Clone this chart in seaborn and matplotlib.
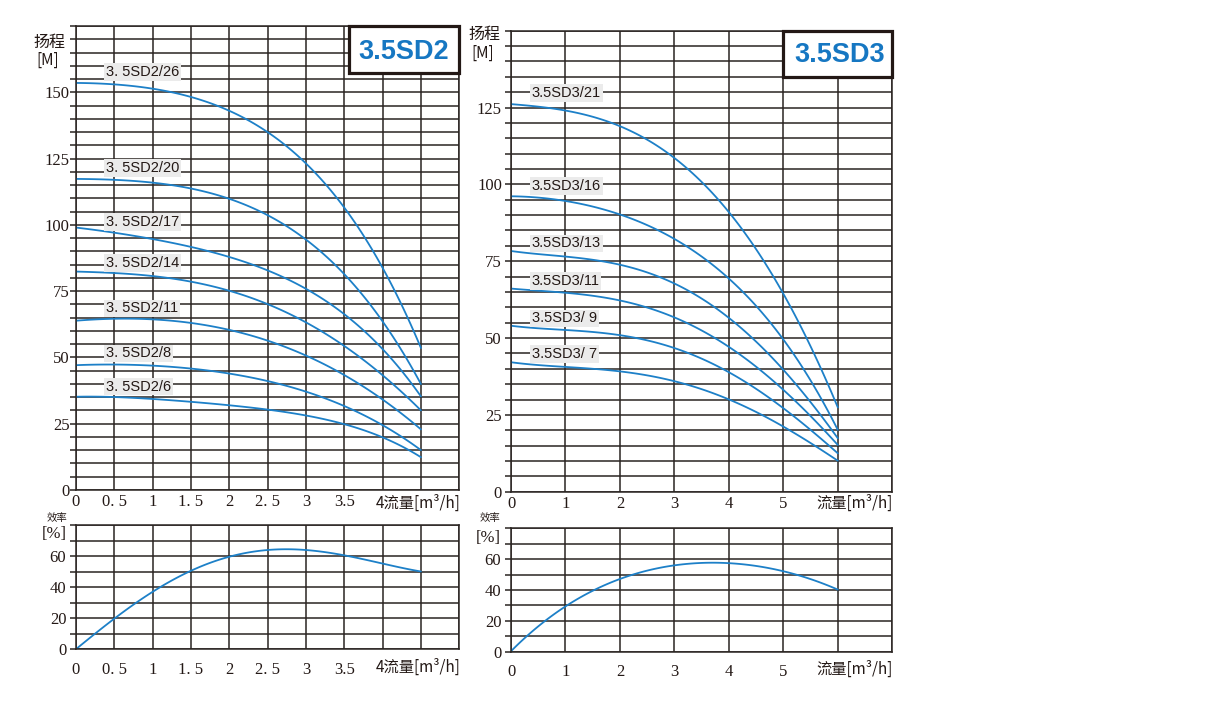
import numpy as np
import pandas as pd
import matplotlib
matplotlib.use("Agg")
import matplotlib.pyplot as plt
from matplotlib.patches import Rectangle
import seaborn as sns

# ---------------- data ----------------
sd2_flow = [0, 0.5, 1, 1.5, 2, 2.5, 3, 3.5, 4, 4.5]
sd2_26 = [153.5, 153, 151.5, 148, 143, 135, 123.5, 106, 84, 53.5]
sd2_20 = [117.3, 117, 116, 113.7, 109.6, 103.7, 94.6, 81.4, 63.4, 40]
sd2_17 = [99, 97, 94.6, 91.7, 88, 82.7, 76, 66, 53.4, 35.2]
sd2_14 = [82.3, 82, 80.7, 78.5, 75, 70, 63.4, 54.7, 42.7, 30.2]
sd2_11 = [63.8, 64.7, 64.3, 63, 60.3, 56.3, 50.9, 43.3, 34, 22.9]
sd2_8 = [47.1, 47.3, 46.8, 45.9, 44, 41, 37, 31.7, 24.5, 15]
sd2_6 = [35.2, 35, 34.3, 33.3, 32, 30.4, 27.9, 24.8, 20, 12.3]
sd2_models = ["3. 5SD2/26", "3. 5SD2/20", "3. 5SD2/17", "3. 5SD2/14",
              "3. 5SD2/11", "3. 5SD2/8", "3. 5SD2/6"]
sd2_label_y = [157.7, 121.5, 101, 85.7, 68.5, 51.5, 39]

sd3_flow = [0, 1, 2, 3, 4, 5, 6]
sd3_21 = [126.1, 124.1, 118.7, 108.9, 90.7, 64.5, 27.4]
sd3_16 = [96.2, 94.3, 90.5, 82.4, 68.8, 49.9, 20]
sd3_13 = [78.3, 76.6, 73.7, 67.8, 56.6, 39.6, 17.4]
sd3_11 = [66.1, 64.7, 62.3, 56.6, 47.2, 33.1, 15.2]
sd3_9 = [54, 52.6, 51, 46.6, 39, 27.1, 12.5]
sd3_7 = [42.1, 40.7, 39, 36, 30.1, 21.1, 10.1]
sd3_models = ["3.5SD3/21", "3.5SD3/16", "3.5SD3/13", "3.5SD3/11",
              "3.5SD3/ 9", "3.5SD3/ 7"]
sd3_label_y = [129.8, 99.4, 80.8, 68.6, 56.4, 44.8]

eff2_flow = [0, 0.5, 1, 1.5, 2, 2.5, 3, 3.5, 4, 4.5]
eff2 = [0, 20, 37, 50, 60, 64, 64, 60, 55.5, 50]
eff3_flow = [0, 0.5, 1, 1.5, 2, 2.5, 3, 3.5, 4, 4.5, 5, 5.5, 6]
eff3 = [0, 17, 29.6, 38.9, 47.1, 52.5, 56, 57.7, 57.7, 55.6, 51.9, 46.9, 40.4]

sd2_xticklabels = ["0", "0. 5", "1", "1. 5", "2", "2. 5", "3", "3.5", "", "", ""]
sd3_xticklabels = ["0", "1", "2", "3", "4", "5", "", ""]
sd2_flow_title = "4流量[m³/h]"
sd3_flow_title = "流量[m³/h]"

# ---------------- style ----------------
sns.set_theme(style="white")
plt.rcParams["font.family"] = ["Liberation Serif", "Noto Sans CJK SC", "DejaVu Sans"]
GRID = "#2a2422"
BLUE = "#1d80c8"
CJK = ["Noto Sans CJK SC", "DejaVu Sans"]

W, H = 1210, 706
fig = plt.figure(figsize=(W / 100, H / 100), dpi=100)


def px_axes(x0, y_top, x1, y_bot):
    return fig.add_axes([x0 / W, 1 - y_bot / H, (x1 - x0) / W, (y_bot - y_top) / H])


def style(ax, xmax, xstep, xlabels, ymax, ystep, ylab_every, ylab_max, xpad, ypad):
    ax.set_xlim(0, xmax)
    ax.set_ylim(0, ymax)
    xt = np.arange(0, xmax + 1e-9, xstep)
    ax.set_xticks(xt)
    ax.set_xticklabels(xlabels)
    yt = np.arange(0, ymax + 1e-9, ystep)
    ax.set_yticks(yt)
    ax.set_yticklabels([f"{int(v)}" if (round(v) % ylab_every == 0 and v <= ylab_max) else ""
                        for v in yt])
    ax.grid(True, color=GRID, lw=1.1)
    ax.set_axisbelow(True)
    ax.tick_params(axis="x", length=0, pad=xpad, labelsize=12, labelcolor="#231815")
    ax.tick_params(axis="y", length=4, width=1.1, color=GRID, pad=ypad,
                   labelsize=12, labelcolor="#231815", left=True)
    for s in ax.spines.values():
        s.set_color(GRID)
        s.set_linewidth(1.1)
        s.set_visible(True)
    ax.set_xlabel("")
    ax.set_ylabel("")


def draw_curves(ax, flow, series, order):
    for ys in series:
        df = pd.DataFrame({"flow": flow, "val": ys})
        sns.regplot(data=df, x="flow", y="val", order=order, ci=None, scatter=False,
                    truncate=True, ax=ax, line_kws=dict(color=BLUE, lw=1.3))


# ---- left head chart ----
ax1 = px_axes(76, 26, 459.3, 490)
draw_curves(ax1, sd2_flow, [sd2_26, sd2_20, sd2_17, sd2_14, sd2_11, sd2_8, sd2_6], 4)
style(ax1, 5, 0.5, sd2_xticklabels, 175, 5, 25, 150, 3, 0.5)
for name, yl in zip(sd2_models, sd2_label_y):
    ax1.text(0.39, yl, name, family="Liberation Sans", fontsize=10.5, va="center", ha="left",
             color="#231815", bbox=dict(boxstyle="square,pad=0.12", fc="#ebebeb", ec="none"))
ax1.add_patch(Rectangle((0.712, 0.899), 0.288, 0.101, transform=ax1.transAxes, fc="white",
                        ec="#231815", lw=2.3, zorder=5, clip_on=False))
ax1.text(0.856, 0.943, "3.5SD2", transform=ax1.transAxes, ha="center", va="center",
         family="Liberation Sans", fontweight="bold", fontsize=19.5, color="#1677c2", zorder=6)

# ---- right head chart ----
ax2 = px_axes(511, 30.7, 892.3, 491.7)
draw_curves(ax2, sd3_flow, [sd3_21, sd3_16, sd3_13, sd3_11, sd3_9, sd3_7], 4)
style(ax2, 7, 1, sd3_xticklabels, 150, 5, 25, 125, 3, 2.5)
for name, yl in zip(sd3_models, sd3_label_y):
    ax2.text(0.38, yl, name, family="Liberation Sans", fontsize=10.5, va="center", ha="left",
             color="#231815", bbox=dict(boxstyle="square,pad=0.12", fc="#ebebeb", ec="none"))
ax2.add_patch(Rectangle((0.714, 0.900), 0.286, 0.100, transform=ax2.transAxes, fc="white",
                        ec="#231815", lw=2.3, zorder=5, clip_on=False))
ax2.text(0.862, 0.947, "3.5SD3", transform=ax2.transAxes, ha="center", va="center",
         family="Liberation Sans", fontweight="bold", fontsize=19.5, color="#1677c2", zorder=6)

# ---- left efficiency chart ----
ax3 = px_axes(76, 525, 459.3, 649.3)
draw_curves(ax3, eff2_flow, [eff2], 4)
style(ax3, 5, 0.5, sd2_xticklabels, 80, 10, 20, 60, 9, 3)

# ---- right efficiency chart ----
ax4 = px_axes(511, 528.3, 892.3, 651.7)
draw_curves(ax4, eff3_flow, [eff3], 4)
style(ax4, 7, 1, sd3_xticklabels, 80, 10, 20, 60, 9, 3)

# ---- axis titles ----
def ftext(x, y, s, **kw):
    fig.text(x / W, 1 - y / H, s, ha="center", va="center", color="#231815", **kw)

ftext(49, 42.5, "扬程", family=CJK, fontsize=11.5)
ftext(48, 60, "[M]", family=CJK, fontsize=11)
ftext(484, 34, "扬程", family=CJK, fontsize=11.5)
ftext(483, 53, "[M]", family=CJK, fontsize=11)
ftext(56.5, 518.5, "效率", family=CJK, fontsize=7.5)
ftext(54.5, 534.5, "[%]", fontsize=12)
ftext(490, 518, "效率", family=CJK, fontsize=7.5)
ftext(488, 538, "[%]", fontsize=12)

for xr, yc, s in [(461, 502.7, sd2_flow_title), (893, 503, sd3_flow_title),
                  (461, 667, sd2_flow_title), (893, 669, sd3_flow_title)]:
    fig.text(xr / W, 1 - yc / H, s, ha="right", va="center",
             family=CJK, fontsize=11, color="#231815")

fig.savefig("out.png", dpi=100)
